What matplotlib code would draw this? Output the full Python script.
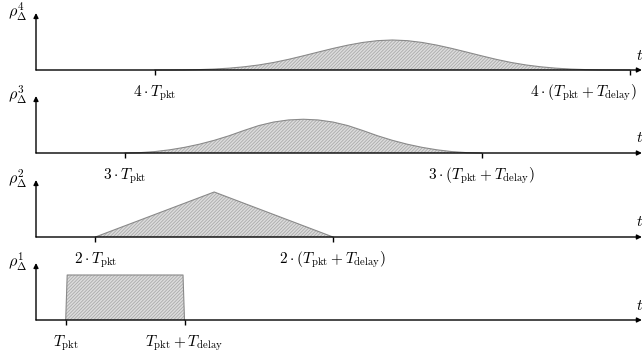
import matplotlib
matplotlib.use("Agg")
import matplotlib.pyplot as plt
import matplotlib.transforms as mtransforms

plt.rcParams["mathtext.fontset"] = "cm"
plt.rcParams["hatch.linewidth"] = 0.6

# Time unit: T_pkt = 1, T_delay = 4
T_PKT = 1.0
T_DELAY = 4.0
T_END = 20.4

# Density of the n-fold sum, sampled on a time grid (one panel per n)
t1 = [1.0, 1.05, 4.95, 5.0]
rho1 = [0.0, 0.25, 0.25, 0.0]

t2 = [2.0, 6.0, 10.0]
rho2 = [0.0, 0.25, 0.0]

t3 = [3.0, 3.5, 4.0, 4.5, 5.0, 5.5, 6.0, 6.5, 7.0, 7.5, 8.0, 8.5, 9.0,
      9.5, 10.0, 10.5, 11.0, 11.5, 12.0, 12.5, 13.0, 13.5, 14.0, 14.5, 15.0]
rho3 = [0.0, 0.002, 0.0078, 0.0176, 0.0313, 0.0488, 0.0703, 0.0957, 0.125,
        0.1523, 0.1719, 0.1836, 0.1875, 0.1836, 0.1719, 0.1523, 0.125,
        0.0957, 0.0703, 0.0488, 0.0313, 0.0176, 0.0078, 0.002, 0.0]

t4 = [4.0, 4.5, 5.0, 5.5, 6.0, 6.5, 7.0, 7.5, 8.0, 8.5, 9.0, 9.5, 10.0,
      10.5, 11.0, 11.5, 12.0, 12.5, 13.0, 13.5, 14.0, 14.5, 15.0, 15.5,
      16.0, 16.5, 17.0, 17.5, 18.0, 18.5, 19.0, 19.5, 20.0]
rho4 = [0.0, 0.0001, 0.0007, 0.0022, 0.0052, 0.0102, 0.0176, 0.0279, 0.0417,
        0.059, 0.0788, 0.0995, 0.1198, 0.1381, 0.153, 0.163, 0.1667, 0.163,
        0.153, 0.1381, 0.1198, 0.0995, 0.0788, 0.059, 0.0417, 0.0279, 0.0176,
        0.0102, 0.0052, 0.0022, 0.0007, 0.0001, 0.0]

panels = [
    (4, t4, rho4, [4 * T_PKT, 4 * (T_PKT + T_DELAY)],
     [r"$4\cdot T_{\rm pkt}$", r"$4\cdot (T_{\rm pkt}+T_{\rm delay})$"]),
    (3, t3, rho3, [3 * T_PKT, 3 * (T_PKT + T_DELAY)],
     [r"$3\cdot T_{\rm pkt}$", r"$3\cdot (T_{\rm pkt}+T_{\rm delay})$"]),
    (2, t2, rho2, [2 * T_PKT, 2 * (T_PKT + T_DELAY)],
     [r"$2\cdot T_{\rm pkt}$", r"$2\cdot (T_{\rm pkt}+T_{\rm delay})$"]),
    (1, t1, rho1, [T_PKT, T_PKT + T_DELAY],
     [r"$T_{\rm pkt}$", r"$T_{\rm pkt}+T_{\rm delay}$"]),
]

W, H = 643, 353
fig = plt.figure(figsize=(W / 100, H / 100), dpi=100)

px_per_t = 29.7
x0_px = 36.0
xlim = (-x0_px / px_per_t, (W - x0_px) / px_per_t)
px_per_rho = 180.0
below, above = 22.0, 64.0
baselines = [70, 153, 237, 320]
ymax_axis = 57.0 / px_per_rho
PT = 0.72  # points per pixel at 100 dpi

for (n, tt, rr, ticks, labels), b in zip(panels, baselines):
    bottom = (H - b - below) / H
    ax = fig.add_axes([0, bottom, 1, (below + above) / H])
    ax.set_xlim(*xlim)
    ax.set_ylim(-below / px_per_rho, above / px_per_rho)
    ax.axis("off")

    # shaded density
    ax.fill_between(tt, 0, rr, facecolor="#dcdcdc", edgecolor="none", zorder=1)
    ax.fill_between(tt, 0, rr, facecolor="none", edgecolor="#ababab",
                    hatch="//////////", linewidth=0, zorder=2)
    ax.plot(tt, rr, color="#8a8a8a", lw=0.8, zorder=3)

    # axes with arrow heads
    ax.annotate("", xy=(T_END, 0), xytext=(0, 0),
                arrowprops=dict(arrowstyle="-|>", lw=1.0, color="black",
                                mutation_scale=7, shrinkA=0, shrinkB=0),
                zorder=4)
    ax.annotate("", xy=(0, ymax_axis), xytext=(0, 0),
                arrowprops=dict(arrowstyle="-|>", lw=1.0, color="black",
                                mutation_scale=7, shrinkA=0, shrinkB=0),
                zorder=4)

    ax.text(-0.3, ymax_axis + 1 / px_per_rho, r"$\rho_{\Delta}^{%d}$" % n,
            fontsize=11.5, ha="right", va="center")
    ax.text(xlim[1], 15 / px_per_rho, r"$t$", fontsize=11,
            ha="right", va="center")

    # ticks and their labels
    for tv, lab in zip(ticks, labels):
        ax.plot([tv, tv], [0, -5 / px_per_rho], color="black", lw=1.0,
                solid_capstyle="butt", zorder=4)
        if tv + 2.2 > T_END:
            trans = mtransforms.offset_copy(ax.transData, fig=fig,
                                            x=7 * PT, y=0, units="points")
            ha = "right"
        else:
            trans = ax.transData
            ha = "center"
        ax.text(tv, -26 / px_per_rho, lab, fontsize=11, ha=ha,
                va="baseline", transform=trans)

fig.savefig("out.png", dpi=100)
